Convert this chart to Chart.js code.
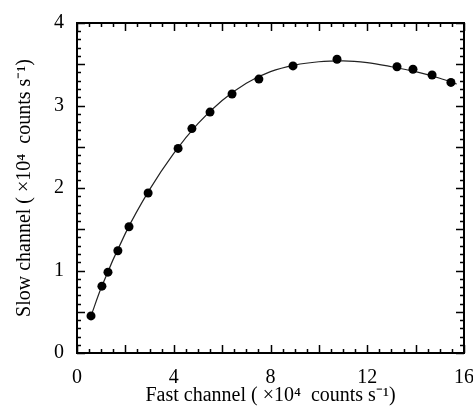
<!DOCTYPE html>
<html><head><meta charset="utf-8">
<script src="https://cdn.jsdelivr.net/npm/chart.js@4/dist/chart.umd.min.js"></script>
<style>html,body{margin:0;padding:0;background:#fff}#wrap{width:473px;height:410px;position:relative}</style>
</head><body><div id="wrap"><canvas id="c"></canvas></div>
<script>
// Measured points (x: fast channel, y: slow channel), units of 1e4 counts/s
const fastRate = [0.58, 1.03, 1.28, 1.69, 2.15, 2.94, 4.18, 4.75, 5.50, 6.41, 7.52, 8.93, 10.75, 13.23, 13.89, 14.68, 15.46];
const slowRate = [0.45, 0.81, 0.98, 1.24, 1.53, 1.94, 2.48, 2.72, 2.92, 3.14, 3.32, 3.48, 3.56, 3.47, 3.44, 3.37, 3.28];
// Fitted curve
const fitFast = [0.58, 1.0, 2.0, 3.0, 4.0, 5.0, 6.0, 7.0, 8.0, 9.0, 10.0, 11.0, 12.0, 13.0, 14.0, 15.0, 15.7];
const fitSlow = [0.45, 0.79, 1.45, 1.98, 2.42, 2.78, 3.06, 3.27, 3.41, 3.49, 3.53, 3.54, 3.52, 3.47, 3.41, 3.33, 3.26];
const xTickLabels = [0, 4, 8, 12, 16];
const yTickLabels = [0, 1, 2, 3, 4];
const xTitle = 'Fast channel ( \u00d710\u2074  counts s\u207b\u00b9)';
const yTitle = 'Slow channel ( \u00d710\u2074  counts s\u207b\u00b9)';

const SERIF = '"Liberation Serif","Times New Roman",serif';
Chart.defaults.font.family = SERIF;
Chart.defaults.color = '#000';

const frame = {
  id: 'frame',
  afterDraw(chart) {
    const ctx = chart.ctx, a = chart.chartArea, sx = chart.scales.x, sy = chart.scales.y;
    ctx.save();
    ctx.strokeStyle = '#000';
    ctx.lineWidth = 1.5;
    // x ticks every 0.5, long every 2
    for (let i = 0; i <= 32; i++) {
      const v = i * 0.5, px = Math.round(sx.getPixelForValue(v)) + 0.5;
      const L = (i % 4 === 0) ? 8 : 4;
      ctx.beginPath();
      ctx.moveTo(px, a.bottom); ctx.lineTo(px, a.bottom - L);
      ctx.moveTo(px, a.top); ctx.lineTo(px, a.top + L);
      ctx.stroke();
    }
    // y ticks every 0.1, long every 0.5
    for (let i = 0; i <= 40; i++) {
      const v = i * 0.1, py = Math.round(sy.getPixelForValue(v)) + 0.5;
      const L = (i % 5 === 0) ? 8 : 4;
      ctx.beginPath();
      ctx.moveTo(a.left, py); ctx.lineTo(a.left + L, py);
      ctx.moveTo(a.right, py); ctx.lineTo(a.right - L, py);
      ctx.stroke();
    }
    ctx.lineWidth = 2;
    ctx.strokeRect(a.left, a.top, a.right - a.left, a.bottom - a.top);
    ctx.restore();
  }
};

new Chart(document.getElementById('c'), {
  type: 'scatter',
  data: {
    datasets: [
      {
        label: 'fit',
        data: fitFast.map((x, i) => ({x, y: fitSlow[i]})),
        showLine: true,
        borderColor: '#222',
        borderWidth: 1.2,
        pointRadius: 0,
        tension: 0.4,
        cubicInterpolationMode: 'monotone',
        order: 2
      },
      {
        label: 'data',
        data: fastRate.map((x, i) => ({x, y: slowRate[i]})),
        showLine: false,
        pointRadius: 4.5,
        pointBackgroundColor: '#000',
        pointBorderColor: '#000',
        borderWidth: 0,
        order: 1
      }
    ]
  },
  options: {
    responsive: true,
    maintainAspectRatio: false,
    animation: false,
    layout: {padding: {left: 0, right: 9, top: 23, bottom: 0}},
    plugins: {legend: {display: false}, tooltip: {enabled: false}},
    scales: {
      x: {
        type: 'linear', min: 0, max: 16,
        afterBuildTicks: s => { s.ticks = xTickLabels.map(v => ({value: v})); },
        afterFit: s => { s.height = 57; s.paddingLeft = 0; s.paddingRight = 0; },
        grid: {display: false, drawTicks: false},
        border: {display: false},
        ticks: {font: {size: 20}, padding: 13, maxRotation: 0, color: '#000'},
        title: {display: true, text: xTitle, font: {size: 20}, color: '#000', padding: {top: 0, bottom: 2}}
      },
      y: {
        type: 'linear', min: 0, max: 4,
        afterBuildTicks: s => { s.ticks = yTickLabels.map(v => ({value: v})); },
        afterFit: s => { s.width = 77; s.paddingTop = 0; s.paddingBottom = 0; },
        grid: {display: false, drawTicks: false},
        border: {display: false},
        ticks: {font: {size: 20}, padding: 13, color: '#000'},
        title: {display: true, text: yTitle, font: {size: 20}, color: '#000', padding: {top: 13, bottom: 0}}
      }
    }
  },
  plugins: [frame]
});
</script>
</body></html>
